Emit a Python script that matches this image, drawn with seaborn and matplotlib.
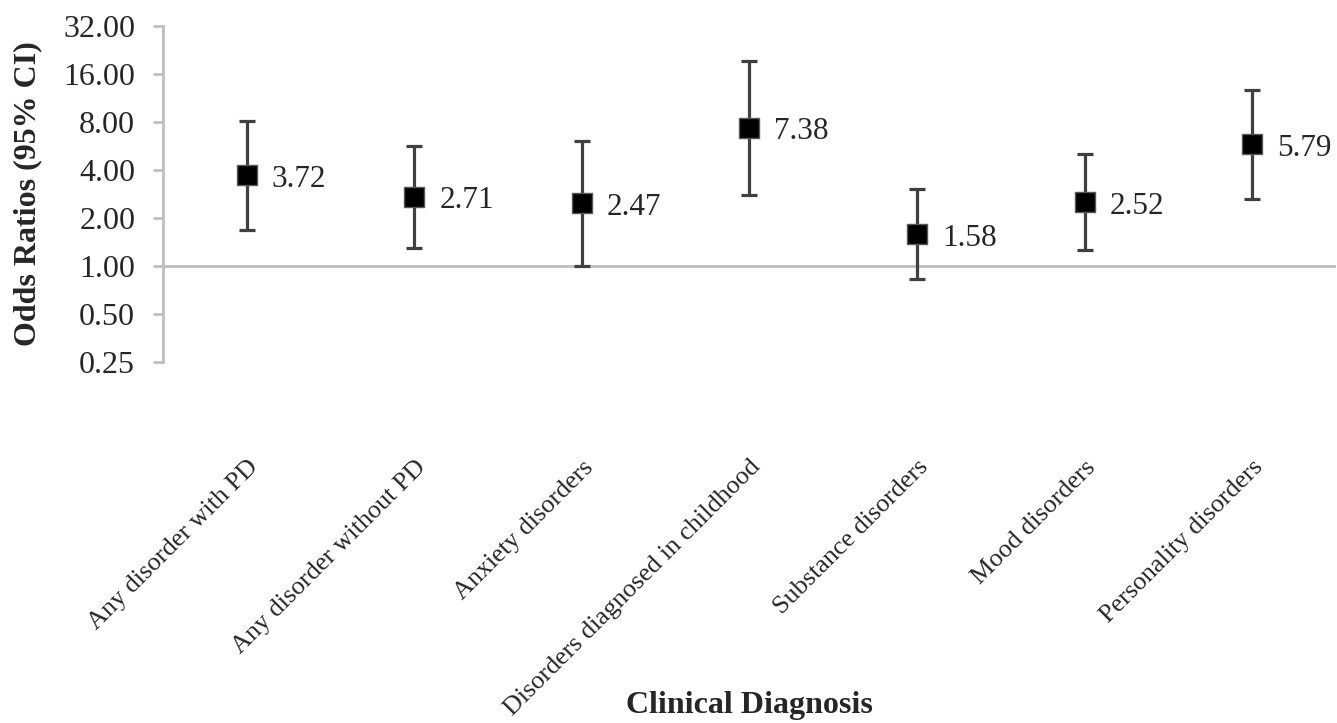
import numpy as np
import pandas as pd
import seaborn as sns
import matplotlib.pyplot as plt
from matplotlib.ticker import FixedLocator, FormatStrFormatter

categories = ['Any disorder with PD', 'Any disorder without PD', 'Anxiety disorders',
              'Disorders diagnosed in childhood', 'Substance disorders',
              'Mood disorders', 'Personality disorders']
odds_ratios = [3.72, 2.71, 2.47, 7.38, 1.58, 2.52, 5.79]
ci_lower = [1.68, 1.29, 1.00, 2.78, 0.83, 1.26, 2.63]
ci_upper = [8.15, 5.66, 6.06, 19.2, 3.03, 5.02, 12.7]
y_ticks = [0.25, 0.5, 1, 2, 4, 8, 16, 32]

df = pd.DataFrame({'diagnosis': categories, 'OR': odds_ratios,
                   'lo': ci_lower, 'hi': ci_upper})

sns.set_style('white')
plt.rcParams['font.family'] = ['Liberation Serif', 'DejaVu Serif']

grey = '#bfbfbf'
fig = plt.figure(figsize=(13.37, 7.23), dpi=100)
ax = fig.add_axes([0.1219, 0.4997, 0.8773, 0.4643])

yerr = np.array([df['OR'] - df['lo'], df['hi'] - df['OR']])
ax.errorbar(df['diagnosis'], df['OR'], yerr=yerr, fmt='none',
            ecolor='#404040', elinewidth=2.3, capsize=5.5, capthick=2.3, zorder=2)
sns.scatterplot(data=df, x='diagnosis', y='OR', marker='s', s=200, color='black',
                edgecolor='#595959', linewidth=1, zorder=3, ax=ax)

for i, v in enumerate(df['OR']):
    ax.annotate(f'{v:.2f}', (i, v), xytext=(18, -3), textcoords='offset points',
                va='center', ha='left', fontsize=22.5)

ax.set_yscale('log', base=2)
ax.set_ylim(0.25, 32)
ax.set_xlim(-0.5, len(categories) - 0.5)
ax.yaxis.set_major_locator(FixedLocator(y_ticks))
ax.yaxis.set_minor_locator(FixedLocator([]))
ax.yaxis.set_major_formatter(FormatStrFormatter('%.2f'))

ax.axhline(1, color=grey, lw=2, zorder=1)
for s in ['top', 'right', 'bottom']:
    ax.spines[s].set_visible(False)
ax.spines['left'].set_color(grey)
ax.spines['left'].set_linewidth(2)

ax.tick_params(axis='y', left=True, length=7, width=2, color=grey, pad=13,
               labelsize=23)
ax.tick_params(axis='x', bottom=False, length=0, pad=68, labelsize=18.8)
plt.setp(ax.get_xticklabels(), rotation=45, ha='right', va='top',
         rotation_mode='anchor')

ax.set_xlabel('Clinical Diagnosis', fontsize=23, fontweight='bold')
ax.set_ylabel('Odds Ratios (95% CI)', fontsize=23, fontweight='bold')
ax.xaxis.set_label_coords(0.5, -0.98)
ax.yaxis.set_label_coords(-0.103, 0.5)

fig.savefig('out.png', dpi=100)
